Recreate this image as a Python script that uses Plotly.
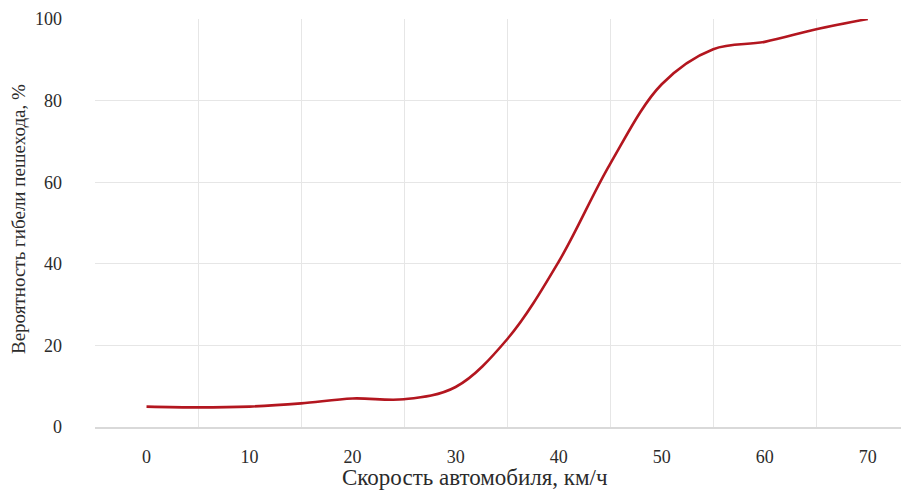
import plotly.graph_objects as go

speed = [0, 5, 10, 15, 20, 25, 30, 35, 40, 45, 50, 55, 60, 65, 70]
prob = [5.0, 4.8, 5.0, 5.8, 7.0, 6.8, 9.8, 21.5, 40.5, 64.5, 84.0, 92.6, 94.4, 97.5, 100.0]
x_ticks = [0, 10, 20, 30, 40, 50, 60, 70]
y_ticks = [0, 20, 40, 60, 80, 100]

FONT = "Liberation Serif"
TXT = "#2B2B2B"
OFF = 8  # default body margin of the html page
W, H = 909 - OFF, 491 - OFF
L, R, T = 95 - OFF, 0, 19 - OFF
B = H - (427 - OFF)
PW, PH = W - L - R, H - T - B

fig = go.Figure()
fig.add_trace(go.Scatter(
    x=speed, y=prob, mode="lines",
    line=dict(color="#B3161F", width=2.6, shape="spline", smoothing=1.0),
    showlegend=False, hoverinfo="skip",
))

fig.update_layout(
    width=W, height=H,
    margin=dict(l=L, r=R, t=T, b=B, autoexpand=False),
    paper_bgcolor="white", plot_bgcolor="white",
    font=dict(family=FONT, size=18, color=TXT),
    xaxis=dict(
        range=[-5, 74], tickvals=x_ticks, ticktext=[str(v) for v in x_ticks],
        showgrid=False, zeroline=False, automargin=False,
        showline=True, linecolor="#D9D9D9", linewidth=2,
        ticks="", ticklabelstandoff=12,
        tickfont=dict(family=FONT, size=18, color=TXT),
        minor=dict(tick0=-5, dtick=10, showgrid=True, gridcolor="#E6E6E6", gridwidth=1),
    ),
    yaxis=dict(
        range=[0, 100], tickvals=y_ticks,
        showgrid=True, gridcolor="#E6E6E6", gridwidth=1,
        zeroline=False, showline=False, ticks="", automargin=False,
        ticklabelstandoff=32,
        tickfont=dict(family=FONT, size=18, color=TXT),
    ),
)

fig.add_annotation(
    text="Скорость автомобиля, км/ч", xref="paper", yref="paper",
    x=(475 - 95) / PW, y=-(477 - 427) / PH, xanchor="center", yanchor="middle",
    showarrow=False, font=dict(family=FONT, size=23, color=TXT),
)
fig.add_annotation(
    text="Вероятность гибели пешехода, %", xref="paper", yref="paper",
    x=-(95 - 18) / PW, y=(427 - 219) / PH, xanchor="center", yanchor="middle",
    textangle=-90, showarrow=False, font=dict(family=FONT, size=19, color=TXT),
)

fig.write_html("out.html")
